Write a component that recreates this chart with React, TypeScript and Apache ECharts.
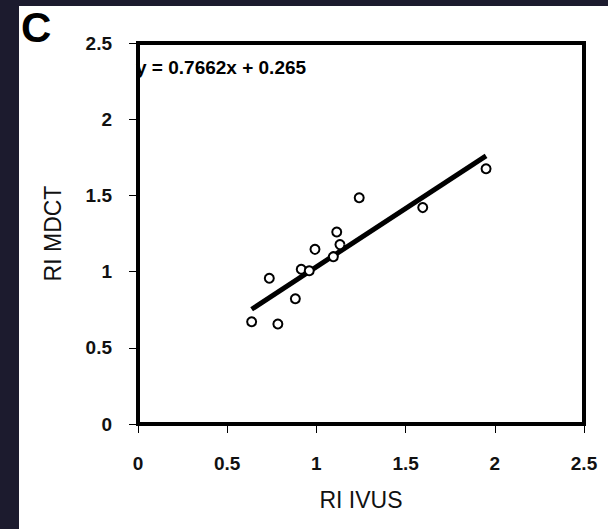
import React, { useEffect, useRef } from "react";
import * as echarts from "echarts";

const ivus = [0.637, 0.784, 0.736, 0.882, 0.915, 0.96, 0.992, 1.095, 1.114, 1.132, 1.24, 1.596, 1.951];
const mdct = [0.671, 0.656, 0.956, 0.822, 1.015, 1.006, 1.146, 1.098, 1.26, 1.177, 1.485, 1.42, 1.675];
const slope = 0.7662;
const intercept = 0.265;
const equationLabel = "y = 0.7662x + 0.265";
const panelLabel = "C";
const xTitle = "RI IVUS";
const yTitle = "RI MDCT";

export default function App() {
  const ref = useRef<HTMLDivElement>(null);
  useEffect(() => {
    document.body.style.margin = "0";
    const chart = echarts.init(ref.current!, undefined, { renderer: "svg" });
    const pts = ivus.map((x, i) => [x, mdct[i]]);
    const xmin = Math.min(...ivus);
    const xmax = Math.max(...ivus);
    const fit = [
      [xmin, slope * xmin + intercept],
      [xmax, slope * xmax + intercept],
    ];
    const font = "'Liberation Sans', Arial, sans-serif";
    chart.setOption({
      animation: false,
      backgroundColor: "transparent",
      textStyle: { fontFamily: font },
      grid: {
        left: 138,
        top: 43,
        right: 24,
        bottom: 105,
        show: true,
        borderColor: "#000",
        borderWidth: 4,
        backgroundColor: "transparent",
      },
      xAxis: {
        type: "value",
        min: 0,
        max: 2.5,
        interval: 0.5,
        name: xTitle,
        nameLocation: "middle",
        nameGap: 64,
        nameTextStyle: { fontSize: 23, color: "#111", fontFamily: font },
        axisLine: { show: true, lineStyle: { color: "#000", width: 4 } },
        axisTick: { show: true, length: 9, lineStyle: { color: "#000", width: 1 } },
        axisLabel: { fontSize: 19, fontWeight: "bold", color: "#111", margin: 30, fontFamily: font },
        splitLine: { show: false },
      },
      yAxis: {
        type: "value",
        min: 0,
        max: 2.5,
        interval: 0.5,
        name: yTitle,
        nameLocation: "middle",
        nameGap: 74,
        nameTextStyle: { fontSize: 23, color: "#111", fontFamily: font },
        axisLine: { show: true, lineStyle: { color: "#000", width: 4 } },
        axisTick: { show: true, length: 9, lineStyle: { color: "#000", width: 1 } },
        axisLabel: { fontSize: 19, fontWeight: "bold", color: "#111", margin: 26, fontFamily: font },
        splitLine: { show: false },
      },
      graphic: [
        {
          type: "text",
          x: 21,
          y: 27,
          style: {
            text: panelLabel,
            font: `bold 42px ${font}`,
            fill: "#000",
            align: "left",
            verticalAlign: "middle",
          },
        },
        {
          type: "text",
          x: 136,
          y: 67,
          style: {
            text: equationLabel,
            font: `bold 19px ${font}`,
            fill: "#000",
            align: "left",
            verticalAlign: "middle",
          },
        },
      ],
      series: [
        {
          type: "line",
          data: fit,
          symbol: "none",
          lineStyle: { color: "#000", width: 5 },
          z: 2,
        },
        {
          type: "scatter",
          data: pts,
          symbol: "circle",
          symbolSize: 9,
          itemStyle: { color: "#fff", borderColor: "#000", borderWidth: 2, opacity: 1 },
          z: 3,
        },
      ],
    });
    return () => chart.dispose();
  }, []);
  return (
    <div style={{ position: "relative", width: 608, height: 529, background: "#1c1b2e" }}>
      <div
        style={{ position: "absolute", left: 19, top: 6, width: 589, height: 523, background: "#ffffff" }}
      />
      <div
        ref={ref}
        style={{ position: "absolute", left: 0, top: 0, width: 608, height: 529 }}
      />
    </div>
  );
}
